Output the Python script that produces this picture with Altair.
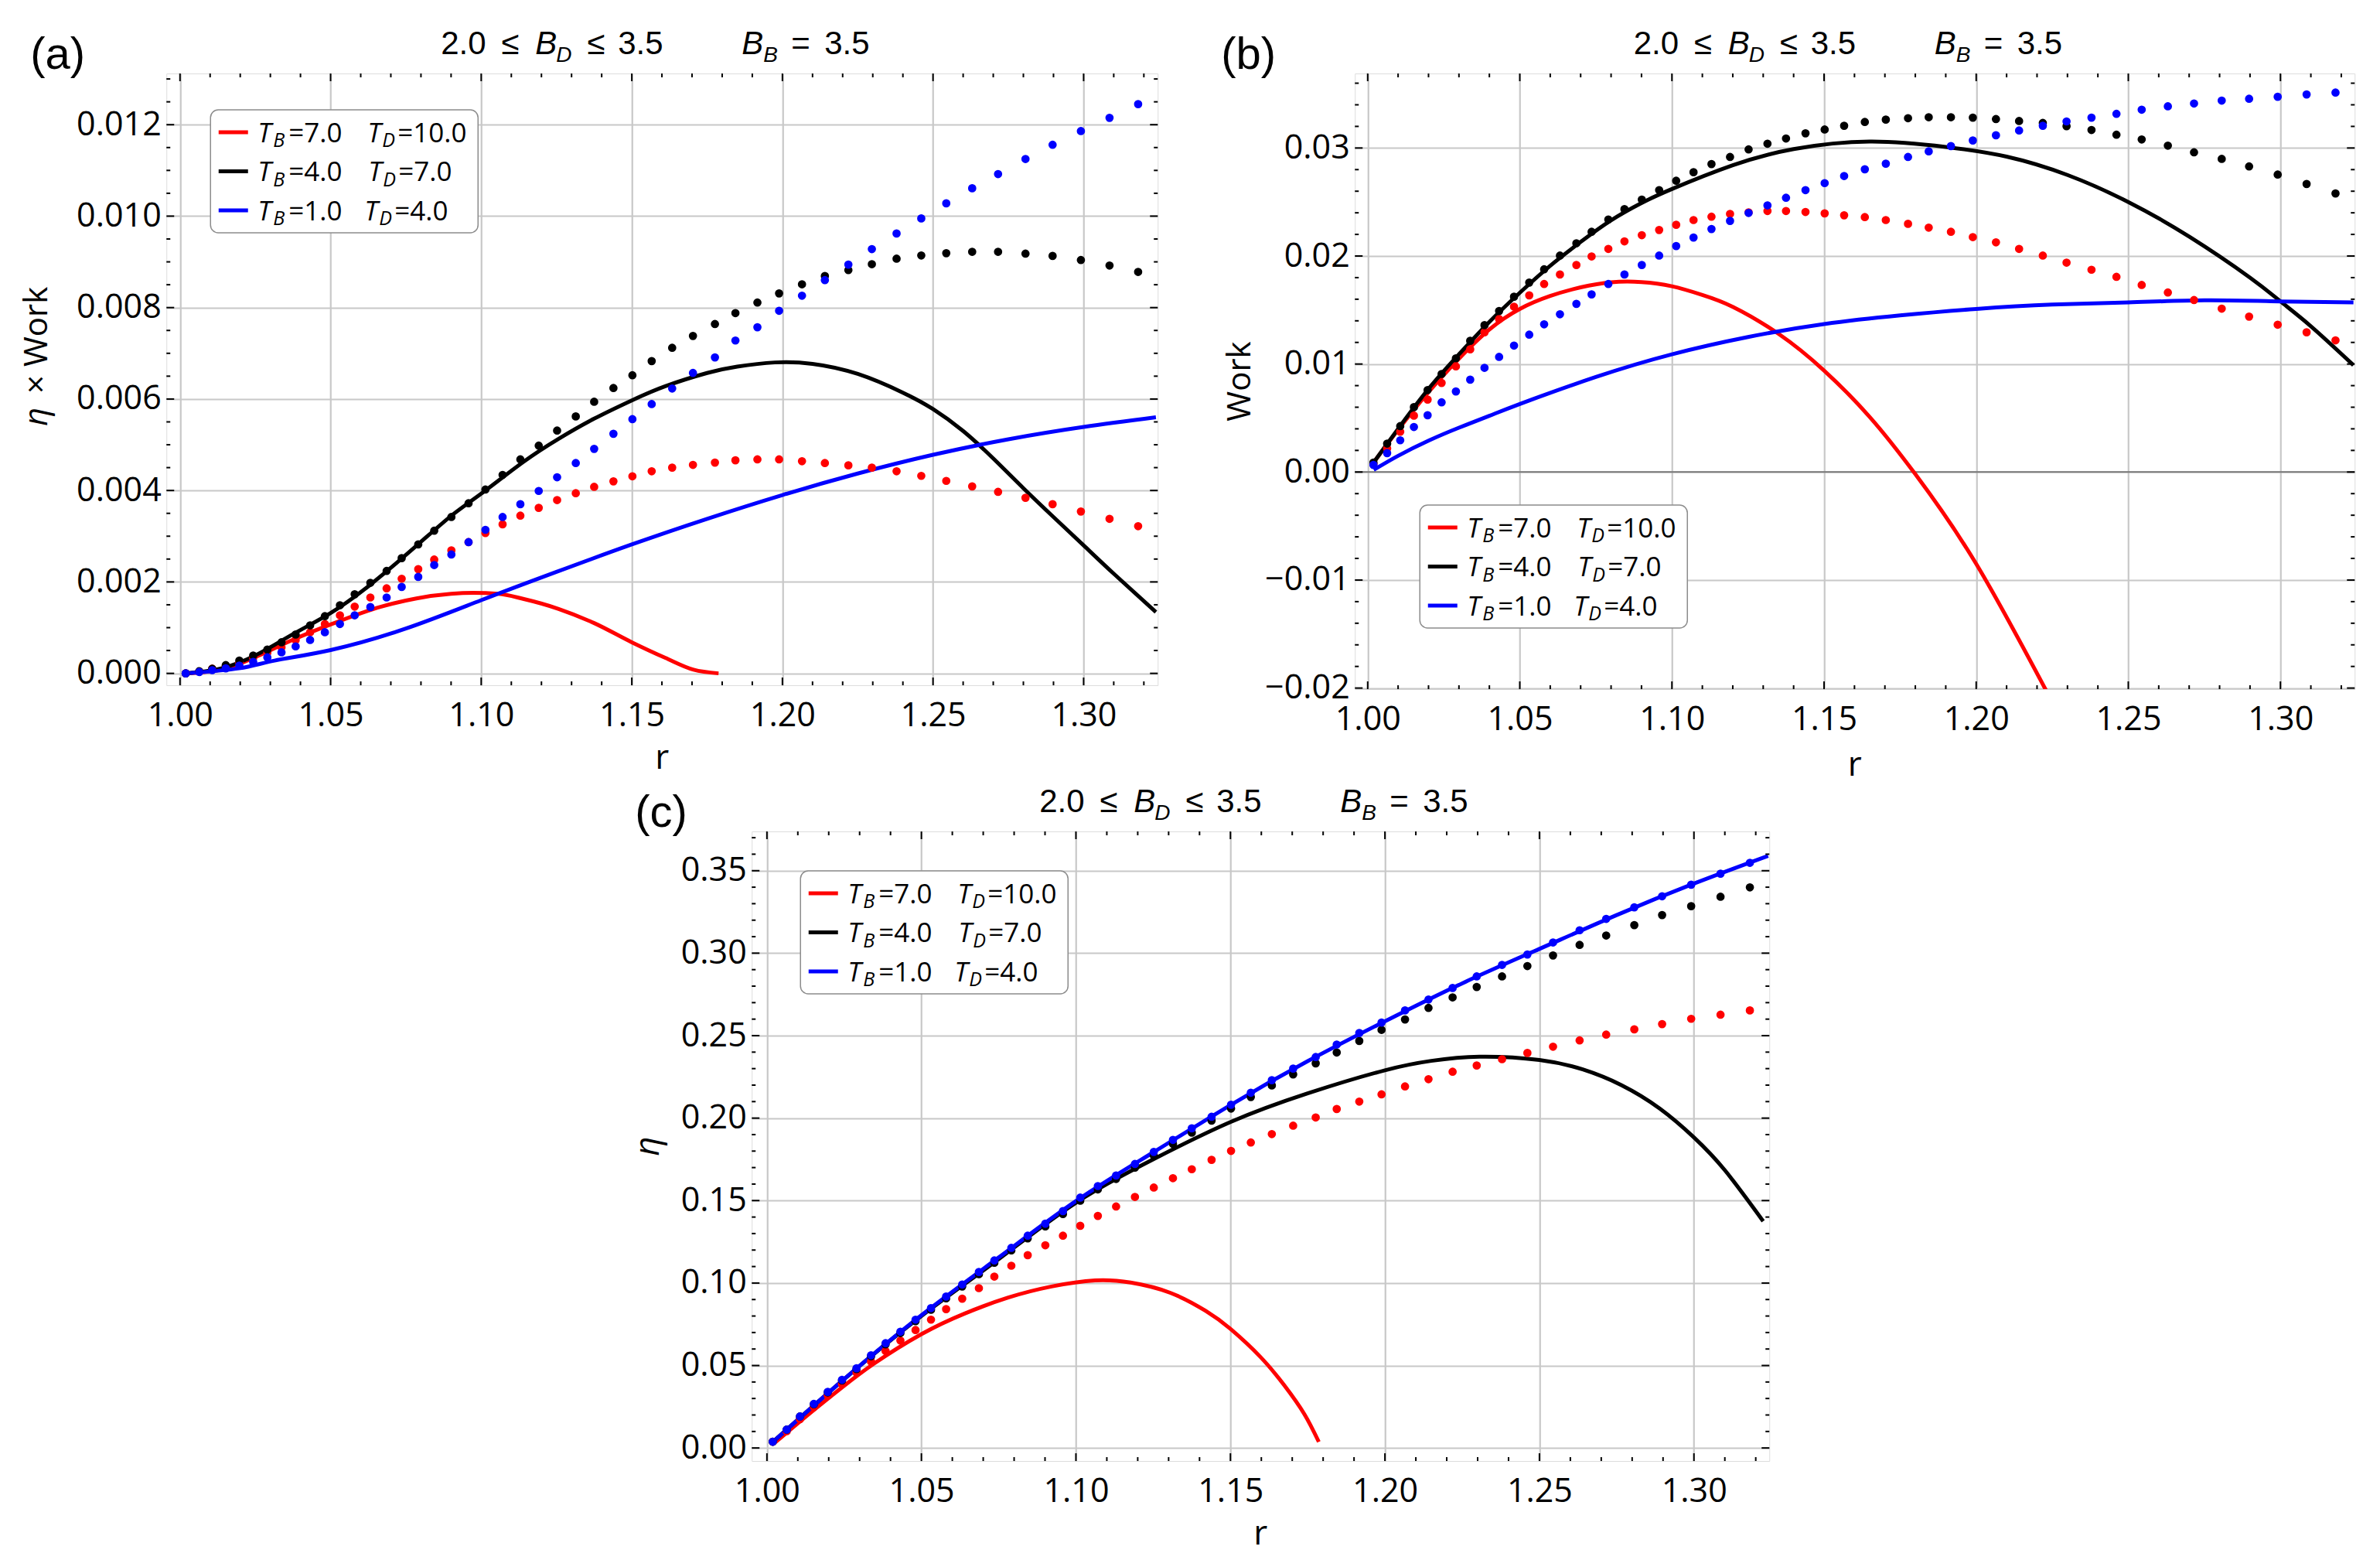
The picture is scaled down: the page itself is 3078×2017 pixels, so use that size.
import altair as alt
import pandas as pd

FONT = "Open Sans"
TFONT = "Liberation Sans"
RED, BLACK, BLUE = "#ff0000", "#000000", "#0000ff"

# r values of the dotted series (same for every panel)
r_dots = [1.0019, 1.0064, 1.0107, 1.0152, 1.0197, 1.0243, 1.0290, 1.0337, 1.0384, 1.0432,
          1.0481, 1.0531, 1.0580, 1.0632, 1.0686, 1.0736, 1.0791, 1.0844, 1.0901, 1.0958,
          1.1014, 1.1071, 1.1130, 1.1191, 1.1252, 1.1314, 1.1375, 1.1439, 1.1502, 1.1566,
          1.1634, 1.1703, 1.1776, 1.1844, 1.1917, 1.1989, 1.2065, 1.2141, 1.2219, 1.2297,
          1.2379, 1.2461, 1.2544, 1.2630, 1.2716, 1.2807, 1.2897, 1.2991, 1.3086, 1.3181]

# (a) eta x Work
a_red_dots = [0.0, 0.00004, 0.0001, 0.00016, 0.00024, 0.00034, 0.00045, 0.00057, 0.00073, 0.0009,
              0.00108, 0.00127, 0.00146, 0.00166, 0.00186, 0.00207, 0.00228, 0.00249, 0.00269, 0.00287,
              0.00307, 0.00326, 0.00345, 0.00362, 0.00379, 0.00394, 0.00408, 0.0042, 0.00431, 0.00442,
              0.0045, 0.00456, 0.00461, 0.00466, 0.00468, 0.00468, 0.00464, 0.0046, 0.00455, 0.0045,
              0.00442, 0.00432, 0.00421, 0.00409, 0.00397, 0.00384, 0.0037, 0.00354, 0.00338, 0.00322]
a_black_dots = [0.0, 0.000045, 0.0001, 0.00018, 0.00028, 0.00039, 0.00052, 0.00068, 0.00085, 0.00105,
                0.00125, 0.00149, 0.00173, 0.00198, 0.00224, 0.00252, 0.00282, 0.00312, 0.00342, 0.00372,
                0.00402, 0.00434, 0.00468, 0.00498, 0.00531, 0.00562, 0.00594, 0.00624, 0.00652, 0.00683,
                0.00712, 0.00738, 0.00764, 0.00788, 0.00811, 0.00831, 0.00851, 0.00869, 0.00882, 0.00895,
                0.00907, 0.00914, 0.00919, 0.00922, 0.00922, 0.00918, 0.00913, 0.00904, 0.00892, 0.00878]
a_blue_dots = [0.0, 0.00003, 0.00007, 0.00011, 0.00017, 0.00025, 0.00035, 0.00046, 0.00059, 0.00073,
               0.0009, 0.00108, 0.00127, 0.00145, 0.00166, 0.00189, 0.00211, 0.00237, 0.0026, 0.00287,
               0.00314, 0.00342, 0.0037, 0.00399, 0.00429, 0.0046, 0.00491, 0.00524, 0.00556, 0.00589,
               0.00623, 0.00657, 0.00691, 0.00728, 0.00757, 0.00793, 0.00826, 0.0086, 0.00894, 0.00928,
               0.00962, 0.00995, 0.01028, 0.01061, 0.01092, 0.01125, 0.01156, 0.01186, 0.01215, 0.01245]
a_red_line_r = [1.002, 1.0137, 1.0255, 1.0373, 1.05, 1.0668, 1.0785, 1.09, 1.0974, 1.1057, 1.1139,
                1.1257, 1.1375, 1.15, 1.1611, 1.1705, 1.1788]
a_red_line = [0.0, 0.00008, 0.00037, 0.00073, 0.00107, 0.00146, 0.00164, 0.00174, 0.00176, 0.00174,
              0.00163, 0.00141, 0.0011, 0.00068, 0.00034, 0.00008, 0.0]
a_black_line_r = [1.002, 1.0137, 1.0255, 1.0373, 1.05, 1.0632, 1.0785, 1.0903, 1.10, 1.1139, 1.1257,
                  1.1375, 1.15, 1.1611, 1.175, 1.185, 1.1975, 1.21, 1.225, 1.24, 1.25, 1.26, 1.27,
                  1.28, 1.29, 1.30, 1.31, 1.324]
a_black_line = [0.0, 0.00011, 0.00041, 0.00085, 0.00132, 0.00194, 0.00279, 0.00346, 0.00393, 0.00462,
                0.00513, 0.00557, 0.00597, 0.00628, 0.00657, 0.00671, 0.0068, 0.00677, 0.00655, 0.00614,
                0.00578, 0.0053, 0.0047, 0.00405, 0.00342, 0.0028, 0.00218, 0.00134]
a_blue_line_r = [1.002, 1.0196, 1.0314, 1.05, 1.075, 1.10, 1.125, 1.15, 1.175, 1.20, 1.225, 1.25,
                 1.275, 1.30, 1.324]
a_blue_line = [0.0, 0.00011, 0.00028, 0.00051, 0.00098, 0.0016, 0.00222, 0.00282, 0.00338, 0.0039,
               0.00437, 0.00478, 0.00512, 0.00539, 0.0056]

# (b) Work
b_red_dots = [0.00075, 0.00219, 0.00373, 0.00522, 0.00671, 0.00825, 0.00978, 0.01136, 0.01294, 0.01417,
              0.01531, 0.01636, 0.01741, 0.01829, 0.01917, 0.01996, 0.02066, 0.02136, 0.02193, 0.02241,
              0.02289, 0.02333, 0.02364, 0.0239, 0.02404, 0.02417, 0.02417, 0.02408, 0.02395, 0.02377,
              0.0236, 0.02333, 0.02298, 0.02263, 0.02224, 0.02175, 0.02127, 0.02066, 0.02004, 0.01939,
              0.01873, 0.01807, 0.01732, 0.01662, 0.01592, 0.01513, 0.01439, 0.01364, 0.01294, 0.01219]
b_black_dots = [0.00088, 0.00263, 0.00425, 0.00601, 0.00759, 0.00908, 0.01053, 0.01215, 0.0136, 0.01491,
                0.01623, 0.01754, 0.01877, 0.02004, 0.02118, 0.02224, 0.02338, 0.02434, 0.02522, 0.0261,
                0.02697, 0.02776, 0.02851, 0.02917, 0.02987, 0.0304, 0.03088, 0.03136, 0.03171, 0.03206,
                0.03241, 0.03263, 0.03276, 0.03285, 0.03285, 0.03281, 0.03268, 0.0325, 0.03232, 0.03202,
                0.03167, 0.03123, 0.03079, 0.03022, 0.0296, 0.02899, 0.02829, 0.02754, 0.02667, 0.02579]
b_blue_dots = [0.00066, 0.00175, 0.00294, 0.00417, 0.00526, 0.00645, 0.00746, 0.00855, 0.00965, 0.01066,
               0.01171, 0.01272, 0.01368, 0.01461, 0.01557, 0.01645, 0.01741, 0.01829, 0.01917, 0.02004,
               0.02092, 0.02171, 0.0225, 0.02325, 0.02399, 0.02469, 0.02539, 0.0261, 0.02675, 0.02741,
               0.02803, 0.02855, 0.02917, 0.02969, 0.03018, 0.0307, 0.03118, 0.03162, 0.03206, 0.03246,
               0.03281, 0.03316, 0.03355, 0.03386, 0.03412, 0.03439, 0.03456, 0.03474, 0.03496, 0.03513]
b_red_line_r = [1.002, 1.01, 1.02, 1.03, 1.04, 1.05, 1.06, 1.07, 1.08, 1.09, 1.10, 1.11, 1.12, 1.135,
                1.15, 1.165, 1.18, 1.20, 1.2235]
b_red_line = [0.0009, 0.0039, 0.0074, 0.0105, 0.0132, 0.0151, 0.0163, 0.0171, 0.01757, 0.01759, 0.0172,
              0.0164, 0.0153, 0.0128, 0.0094, 0.0051, -0.0002, -0.0085, -0.0205]
b_black_line_r = [1.002, 1.01, 1.02, 1.03, 1.04, 1.05, 1.06, 1.07, 1.08, 1.09, 1.10, 1.12, 1.14, 1.165,
                  1.19, 1.21, 1.23, 1.25, 1.27, 1.29, 1.30, 1.31, 1.324]
b_black_line = [0.0009, 0.004, 0.0077, 0.0109, 0.0139, 0.0166, 0.0191, 0.0213, 0.0233, 0.0249, 0.0262,
                0.0284, 0.0299, 0.0306, 0.0301, 0.0292, 0.0275, 0.0250, 0.0218, 0.0180, 0.0158, 0.0135,
                0.0099]
b_blue_line_r = [1.002, 1.01, 1.02, 1.03, 1.04, 1.05, 1.075, 1.10, 1.125, 1.15, 1.175, 1.20, 1.225, 1.25,
                 1.275, 1.30, 1.324]
b_blue_line = [0.0002, 0.0015, 0.0029, 0.0041, 0.0052, 0.0063, 0.0088, 0.0109, 0.0125, 0.0137, 0.0145,
               0.0151, 0.0155, 0.0157, 0.0159, 0.0158, 0.0157]

# (c) eta
c_red_dots = [0.0038, 0.0102, 0.0175, 0.0248, 0.0318, 0.0388, 0.0457, 0.0524, 0.0588, 0.0651,
              0.0715, 0.0778, 0.0842, 0.0905, 0.0969, 0.1039, 0.1105, 0.1169, 0.1229, 0.1287,
              0.1347, 0.1407, 0.1464, 0.1522, 0.1579, 0.1636, 0.169, 0.1747, 0.1801, 0.1852,
              0.1903, 0.1954, 0.2004, 0.2055, 0.21, 0.2144, 0.2192, 0.2236, 0.2281, 0.2319,
              0.2357, 0.2395, 0.2433, 0.2471, 0.2506, 0.2538, 0.257, 0.2602, 0.2627, 0.2653]
c_black_dots = [0.0038, 0.0111, 0.0191, 0.0265, 0.0337, 0.0409, 0.0478, 0.0556, 0.0628, 0.0697,
                0.0769, 0.0838, 0.0907, 0.0979, 0.1054, 0.1123, 0.1198, 0.1271, 0.1343, 0.1418,
                0.1499, 0.1568, 0.1631, 0.17, 0.1772, 0.1844, 0.1912, 0.1985, 0.2058, 0.2128,
                0.2198, 0.2265, 0.2332, 0.2398, 0.2468, 0.2535, 0.2598, 0.2668, 0.2732, 0.2795,
                0.2859, 0.2922, 0.2986, 0.305, 0.3107, 0.317, 0.3231, 0.3285, 0.3342, 0.3399]
c_blue_dots = [0.0038, 0.0111, 0.0191, 0.0267, 0.034, 0.0413, 0.0483, 0.0562, 0.0635, 0.0705,
               0.0778, 0.0848, 0.0918, 0.0991, 0.1067, 0.1137, 0.1213, 0.1287, 0.136, 0.1436,
               0.1518, 0.1588, 0.1652, 0.1722, 0.1795, 0.1868, 0.1938, 0.2008, 0.2081, 0.2154,
               0.223, 0.23, 0.237, 0.2446, 0.2516, 0.2579, 0.2653, 0.2719, 0.2789, 0.2859,
               0.2929, 0.2992, 0.3065, 0.3139, 0.3208, 0.3278, 0.3345, 0.3415, 0.3482, 0.3548]
c_red_line_r = [1.0027, 1.0142, 1.0245, 1.0347, 1.05, 1.064, 1.0781, 1.0921, 1.1062, 1.1177, 1.1305,
                1.142, 1.15, 1.1598, 1.1675, 1.1739, 1.1786]
c_red_line = [0.0034, 0.0215, 0.0370, 0.0512, 0.0690, 0.0815, 0.0912, 0.0979, 0.1016, 0.1003, 0.0941,
              0.0831, 0.0722, 0.055, 0.0378, 0.0206, 0.0037]
c_black_line_r = [1.002, 1.025, 1.05, 1.075, 1.10, 1.125, 1.15, 1.175, 1.20, 1.215, 1.2306, 1.25,
                  1.264, 1.2765, 1.289, 1.30, 1.31, 1.3224]
c_black_line = [0.0038, 0.0417, 0.0800, 0.1145, 0.1487, 0.175, 0.1976, 0.2150, 0.2290, 0.2347, 0.2372,
                0.2352, 0.2295, 0.2200, 0.2057, 0.1883, 0.1684, 0.1375]
c_blue_line_r = [1.002, 1.025, 1.05, 1.075, 1.10, 1.125, 1.15, 1.175, 1.20, 1.225, 1.25, 1.275, 1.30,
                 1.324]
c_blue_line = [0.0038, 0.0418, 0.0805, 0.1155, 0.1497, 0.1792, 0.2079, 0.2345, 0.2587, 0.2817, 0.3026,
               0.3231, 0.3422, 0.359]

# legend entries
leg_colors = [RED, BLACK, BLUE]
leg_tb = ["7.0", "4.0", "1.0"]
leg_td = ["10.0", "7.0", "4.0"]
leg_td_x = [142, 143, 138]

x_major = [1.00, 1.05, 1.10, 1.15, 1.20, 1.25, 1.30]
x_minor = [round(1.0 + 0.01 * i, 2) for i in range(33) if i % 5]

ONE = pd.DataFrame({"k": [0]})


def text(s, x, y, size, italic=False, align="left", angle=0, font=FONT):
    return alt.Chart(ONE).mark_text(
        text=s, font=font, fontSize=size, fontStyle="italic" if italic else "normal",
        align=align, baseline="alphabetic", angle=angle, color="black"
    ).encode(x=alt.value(x), y=alt.value(y))


def title_marks(w):
    c = w / 2
    pieces = [("2.0", -286, False, False), ("≤", -208, False, False), ("B", -164, True, False),
              ("D", -137, True, True), ("≤", -97, False, False), ("3.5", -57, False, False),
              ("B", 103, True, False), ("B", 131, True, True), ("=", 167, False, False),
              ("3.5", 210, False, False)]
    return [text(s, c + dx, -15 if sub else -25, 28 if sub else 42, italic=it, font=TFONT)
            for s, dx, it, sub in pieces]


def legend_marks(bx, by):
    out = [alt.Chart(ONE).mark_rect(fill="white", stroke="#8c8c8c", strokeWidth=1.5, cornerRadius=10).encode(
        x=alt.value(bx), x2=alt.value(bx + 346), y=alt.value(by), y2=alt.value(by + 159))]
    for i in range(3):
        ry = by + 29 + 50.5 * i
        tx = bx + 61
        off = leg_td_x[i]
        out.append(alt.Chart(ONE).mark_rule(color=leg_colors[i], strokeWidth=5).encode(
            x=alt.value(bx + 10.5), x2=alt.value(bx + 48.5), y=alt.value(ry)))
        out += [
            text("T", tx, ry + 12.5, 35, italic=True),
            text("B", tx + 20, ry + 19, 25, italic=True),
            text("=" + leg_tb[i], tx + 40, ry + 12.5, 35),
            text("T", tx + off, ry + 12.5, 35, italic=True),
            text("D", tx + off + 19, ry + 19, 25, italic=True),
            text("=" + leg_td[i], tx + off + 39, ry + 12.5, 35),
        ]
    return out


def panel(dots, lines, xdom, ydom, w, h, yfmt, y_major, y_minor, label, label_x, ytitle, leg_xy,
          r_dy, zero=False):
    X = alt.X("r:Q", scale=alt.Scale(domain=xdom, nice=False, zero=False),
              axis=alt.Axis(values=x_major, format=".2f", title=None, grid=True, ticks=False, domain=False,
                            labelFont=FONT, labelFontSize=43, labelPadding=18, labelColor="black",
                            labelFlush=False, labelOverlap=False, gridColor="#c8c8c8", gridWidth=2.2))
    Y = alt.Y("v:Q", scale=alt.Scale(domain=ydom, nice=False, zero=False),
              axis=alt.Axis(values=y_major, format=yfmt, title=None, grid=True, ticks=False, domain=False,
                            labelFont=FONT, labelFontSize=43, labelPadding=7, labelColor="black",
                            labelFlush=False, labelOverlap=False, gridColor="#c8c8c8", gridWidth=2.2))
    layers = []
    if zero:
        layers.append(alt.Chart(pd.DataFrame({"v": [0.0]})).mark_rule(color="#777777", strokeWidth=2).encode(y=Y))
    for rl, vl, c, interp in lines:
        layers.append(alt.Chart(pd.DataFrame({"r": rl, "v": vl})).mark_line(
            color=c, strokeWidth=5, interpolate=interp, clip=True).encode(x=X, y=Y))
    for vl, c in dots:
        layers.append(alt.Chart(pd.DataFrame({"r": r_dots, "v": vl})).mark_circle(
            color=c, size=115, opacity=1, clip=True).encode(x=X, y=Y))
    # inward frame ticks
    for vals, L in ((x_major, 10), (x_minor, 5)):
        d = pd.DataFrame({"r": vals})
        layers.append(alt.Chart(d).mark_rule(color="black", strokeWidth=2).encode(
            x=X, y=alt.value(h), y2=alt.value(h - L)))
        layers.append(alt.Chart(d).mark_rule(color="black", strokeWidth=2).encode(
            x=X, y=alt.value(0), y2=alt.value(L)))
    for vals, L in ((y_major, 10), (y_minor, 5)):
        d = pd.DataFrame({"v": vals})
        layers.append(alt.Chart(d).mark_rule(color="black", strokeWidth=2).encode(
            y=Y, x=alt.value(0), x2=alt.value(L)))
        layers.append(alt.Chart(d).mark_rule(color="black", strokeWidth=2).encode(
            y=Y, x=alt.value(w), x2=alt.value(w - L)))
    layers += legend_marks(*leg_xy)
    layers += title_marks(w)
    layers.append(text(label, label_x, -6, 58, font=TFONT))
    layers.append(text("r", w / 2, h + r_dy, 44, align="center"))
    layers += ytitle
    return alt.layer(*layers).properties(width=w, height=h)


wa, ha = 1282, 791
pa = panel(
    [(a_red_dots, RED), (a_black_dots, BLACK), (a_blue_dots, BLUE)],
    [(a_red_line_r, a_red_line, RED, "monotone"), (a_black_line_r, a_black_line, BLACK, "natural"),
     (a_blue_line_r, a_blue_line, BLUE, "natural")],
    [0.9955, 1.3246], [-0.00026, 0.01312], wa, ha, ".3f",
    [0.0, 0.002, 0.004, 0.006, 0.008, 0.010, 0.012],
    [round(0.0005 * i, 4) for i in range(27) if i % 4],
    "(a)", -176,
    [text("η", -154, 456, 42, italic=True, angle=270), text("× Work", -154, 414, 42, angle=270)],
    (57, 47), 108,
)

wb, hb = 1293, 796
pb = panel(
    [(b_red_dots, RED), (b_black_dots, BLACK), (b_blue_dots, BLUE)],
    [(b_red_line_r, b_red_line, RED, "natural"), (b_black_line_r, b_black_line, BLACK, "natural"),
     (b_blue_line_r, b_blue_line, BLUE, "natural")],
    [0.9958, 1.3244], [-0.0201, 0.0369], wb, hb, ".2f",
    [-0.02, -0.01, 0.0, 0.01, 0.02, 0.03],
    [round(-0.02 + 0.002 * i, 3) for i in range(29) if i % 5],
    "(b)", -173,
    [text("Work", -135, hb / 2, 42, align="center", angle=270)],
    (84, 558), 112, zero=True,
)

wc, hc = 1316, 814
pc = panel(
    [(c_red_dots, RED), (c_black_dots, BLACK), (c_blue_dots, BLUE)],
    [(c_red_line_r, c_red_line, RED, "natural"), (c_black_line_r, c_black_line, BLACK, "natural"),
     (c_blue_line_r, c_blue_line, BLUE, "natural")],
    [0.9951, 1.3244], [-0.0079, 0.3738], wc, hc, ".2f",
    [0.0, 0.05, 0.10, 0.15, 0.20, 0.25, 0.30, 0.35],
    [round(0.01 * i, 2) for i in range(38) if i % 5],
    "(c)", -151,
    [text("η", -120, hc / 2, 44, italic=True, align="center", angle=270)],
    (63, 51), 108,
)

chart = alt.vconcat(
    alt.hconcat(pa, pb, spacing=79),
    pc,
    spacing=2,
    center=True,
).properties(
    padding={"left": 18, "top": 27, "right": 5, "bottom": 5},
).configure_view(
    stroke="black", strokeWidth=3
).configure(background="white")

chart.save("out.html", embed_options={"renderer": "svg", "actions": False})
